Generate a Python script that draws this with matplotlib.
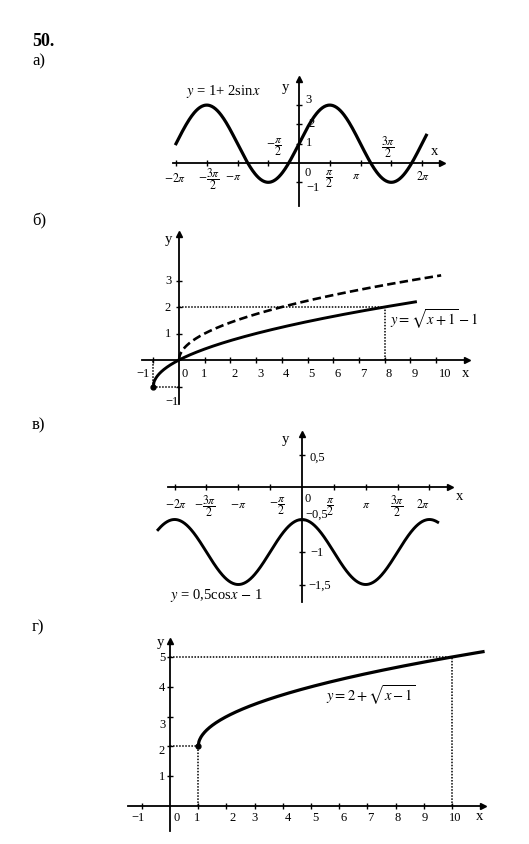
import numpy as np
import matplotlib.pyplot as plt

plt.rcParams['font.family'] = ['Liberation Serif', 'DejaVu Serif']
plt.rcParams['mathtext.fontset'] = 'stix'

W, H = 529, 845
PI = np.pi

# a) y = 1 + 2 sin x
a_x = np.linspace(-2 * PI, 2.07 * PI, 400)
a_y = 1 + 2 * np.sin(a_x)
a_xticks = [-2 * PI, -1.5 * PI, -PI, -0.5 * PI, 0.5 * PI, PI, 1.5 * PI, 2 * PI]
a_xlabels = [r'$-2\pi$', r'$-\dfrac{3\pi}{2}$', r'$-\pi$', r'$-\dfrac{\pi}{2}$',
             r'$\dfrac{\pi}{2}$', r'$\pi$', r'$\dfrac{3\pi}{2}$', r'$2\pi$']
a_yticks = [3, 2, 1, -1]
a_ylabels = ['3', '2', '1', '\u22121']

# b) y = sqrt(x+1) - 1 and y = sqrt(x)
b_x = np.linspace(-1, 9.2, 400)
b_y = np.sqrt(b_x + 1) - 1
b_x2 = np.linspace(0, 10.2, 400)
b_y2 = np.sqrt(b_x2)
b_start = (-1, -1)
b_mark = (8, 2)
b_xticks = [-1, 1, 2, 3, 4, 5, 6, 7, 8, 9, 10]
b_yticks = [3, 2, 1, -1]

# c) y = 0.5 cos x - 1
c_x = np.linspace(-2.26 * PI, 2.13 * PI, 400)
c_y = 0.5 * np.cos(c_x) - 1
c_xticks = a_xticks
c_xlabels = a_xlabels
c_yticks = [0.5, -0.5, -1, -1.5]
c_ylabels = ['0,5', '\u22120,5', '\u22121', '\u22121,5']

# d) y = 2 + sqrt(x-1)
d_x = np.linspace(1, 11.1, 400)
d_y = 2 + np.sqrt(d_x - 1)
d_start = (1, 2)
d_mark = (10, 5)
d_xticks = [-1, 1, 2, 3, 4, 5, 6, 7, 8, 9, 10]
d_yticks = [1, 2, 3, 4, 5]

fig = plt.figure(figsize=(W / 100, H / 100), dpi=100)


def panel(ox, oy, sx, sy, x0, x1, y0, y1):
    # ox, oy: pixel of origin; sx, sy: pixels per unit; x0..x1, y0..y1: axis extent in px
    ax = fig.add_axes([x0 / W, 1 - y0 / H, (x1 - x0) / W, (y0 - y1) / H])
    ax.set_xlim((x0 - ox) / sx, (x1 - ox) / sx)
    ax.set_ylim((oy - y0) / sy, (oy - y1) / sy)
    ax.spines['top'].set_visible(False)
    ax.spines['right'].set_visible(False)
    ax.spines['left'].set_position(('data', 0))
    ax.spines['bottom'].set_position(('data', 0))
    for s in ('left', 'bottom'):
        ax.spines[s].set_linewidth(1.3)
    ax.plot(1, 0, '>k', ms=5, transform=ax.get_yaxis_transform(), clip_on=False)
    ax.plot(0, 1, '^k', ms=5, transform=ax.get_xaxis_transform(), clip_on=False)
    ax.patch.set_visible(False)
    ax.tick_params(direction='inout', length=5, width=1,
                   labelbottom=False, labelleft=False)
    return ax


def tick_text(ax, ticks, texts, offs, axis='x', ha='center', fs=9):
    for t, s, (dx, dy) in zip(ticks, texts, offs):
        xy = (t, 0) if axis == 'x' else (0, t)
        ax.annotate(s, xy, xytext=(dx, -dy), textcoords='offset pixels',
                    ha=ha, va='center', fontsize=fs)


def ftext(x, y, s, **kw):
    kw.setdefault('fontsize', 10.5)
    fig.text(x / W, 1 - y / H, s, ha=kw.pop('ha', 'center'), va='center', **kw)


ftext(32, 42, '50.', ha='left', fontsize=13, fontweight='bold')
ftext(32, 61, 'а)', ha='left', fontsize=12)
ftext(32, 221, 'б)', ha='left', fontsize=12)
ftext(32, 425, 'в)', ha='left', fontsize=12)
ftext(32, 627, 'г)', ha='left', fontsize=12)

# ---- a)
ax = panel(299, 164, 61.5 / PI, 19.3, 173, 442, 207, 80)
ax.plot(a_x, a_y, 'k', lw=2.3, clip_on=False)
ax.set_xticks(a_xticks)
ax.set_yticks(a_yticks)
tick_text(ax, a_xticks, a_xlabels,
          [(-1, 14), (2, 15), (-4, 13), (6, -17), (-1, 15), (-4, 12), (-3, -17), (1, 12)],
          fs=8.5)
tick_text(ax, [0], ['0'], [(9, 9)])
tick_text(ax, a_yticks, a_ylabels, [(10, -6), (13, -1), (10, -2), (14, 5)], axis='y')
ftext(285, 87, 'y')
ftext(435, 152, 'x')
ftext(223, 92, r'$y$ = 1+ 2sin$x$')

# ---- b)
ax = panel(179, 361, 25.7, 26.5, 142, 467, 405, 235)
ax.plot(b_x, b_y, 'k', lw=2.1, clip_on=False)
ax.plot(b_x2, b_y2, 'k', lw=1.9, ls=(0, (3.2, 1.6)), clip_on=False)
dot = dict(color='k', lw=1.1, ls=(0, (1, 1)))
ax.plot([0, b_mark[0]], [b_mark[1], b_mark[1]], **dot)
ax.plot([b_mark[0], b_mark[0]], [0, b_mark[1]], **dot)
ax.plot([b_start[0], 0], [b_start[1], b_start[1]], **dot)
ax.plot([b_start[0], b_start[0]], [b_start[1], 0], **dot)
ax.plot(*b_start, 'ko', ms=3.5, clip_on=False)
ax.set_xticks(b_xticks)
ax.set_yticks(b_yticks)
tick_text(ax, b_xticks, ['\u22121'] + [str(v) for v in b_xticks[1:]],
          [(-10, 13), (-1, 13)] + [(4, 13)] * 8 + [(9, 13)])
tick_text(ax, [0], ['0'], [(6, 13)])
tick_text(ax, b_yticks, ['3', '2', '1', '\u22121'],
          [(-11, 0), (-11, 0), (-11, 0), (-7, 15)], axis='y')
ftext(168, 240, 'y')
ftext(466, 374, 'x')
ftext(434, 319, r'$y=\sqrt{x+1}-1$')

# ---- c)
ax = panel(302, 488, 63.7 / PI, 65, 168, 450, 603, 435)
ax.plot(c_x, c_y, 'k', lw=2.1, clip_on=False)
ax.set_xticks(c_xticks)
ax.set_yticks(c_yticks)
tick_text(ax, c_xticks, c_xlabels,
          [(2, 17), (-1, 18), (0, 17), (7, 18), (-4, 19), (0, 17), (0, 18), (-6, 17)],
          fs=8.5)
tick_text(ax, [0], ['0'], [(6, 11)])
tick_text(ax, c_yticks, c_ylabels, [(8, 2), (3, -6), (8, 0), (6, 0)], axis='y', ha='left')
ftext(285, 440, 'y')
ftext(460, 497, 'x')
ftext(216, 596, r'$y$ = 0,5cos$x$ $-$ 1')

# ---- d)
ax = panel(170, 807, 28.2, 29.8, 128, 483, 832, 642)
ax.plot(d_x, d_y, 'k', lw=2.3, clip_on=False)
ax.plot([0, d_mark[0]], [d_mark[1], d_mark[1]], **dot)
ax.plot([d_mark[0], d_mark[0]], [0, d_mark[1]], **dot)
ax.plot([0, d_start[0]], [d_start[1], d_start[1]], **dot)
ax.plot([d_start[0], d_start[0]], [0, d_start[1]], **dot)
ax.plot(*d_start, 'ko', ms=3.5, clip_on=False)
ax.set_xticks(d_xticks)
ax.set_yticks(d_yticks)
tick_text(ax, d_xticks, ['\u22121'] + [str(v) for v in d_xticks[1:]],
          [(-4, 11), (-1, 11), (6, 11), (0, 11), (5, 11), (4, 11), (4, 11),
           (3, 11), (2, 11), (1, 11), (3, 11)])
tick_text(ax, [0], ['0'], [(7, 11)])
tick_text(ax, d_yticks, ['1', '2', '3', '4', '5'],
          [(-8, 0), (-8, 4), (-8, 7), (-8, 0), (-8, 0)], axis='y')
ftext(160, 643, 'y')
ftext(480, 817, 'x')
ftext(371, 695, r'$y=2+\sqrt{x-1}$')

fig.savefig('out.png', dpi=100)
